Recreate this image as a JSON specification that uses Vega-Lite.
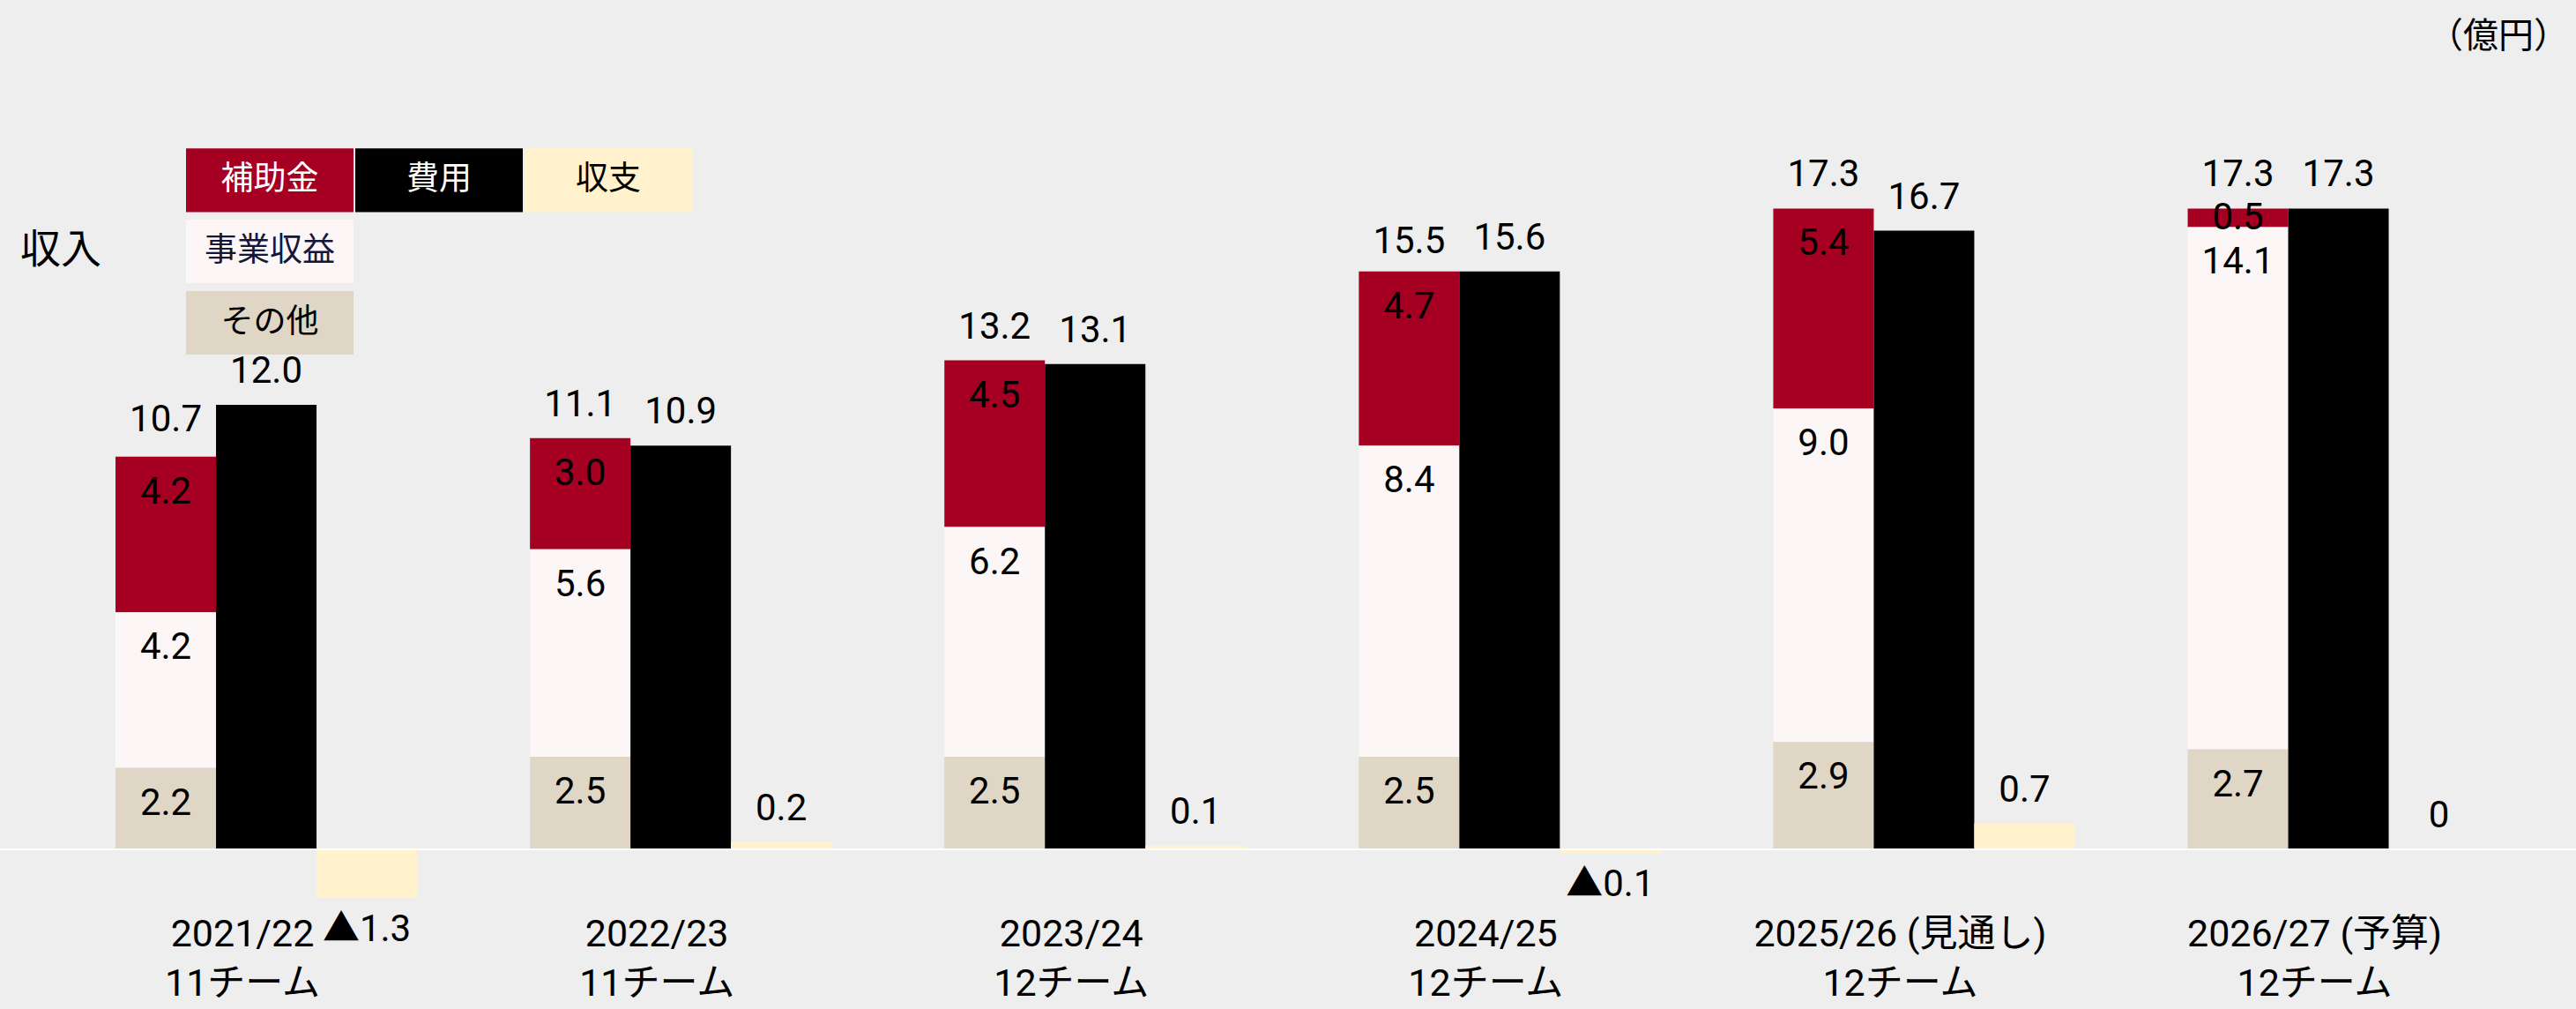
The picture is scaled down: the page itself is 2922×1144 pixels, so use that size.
{
  "$schema": "https://vega.github.io/schema/vega-lite/v6.json",
  "width": 2922,
  "height": 1144,
  "autosize": "none",
  "padding": 0,
  "background": "#eeeeee",
  "title": {"text": "（億円）", "anchor": "end", "orient": "top", "offset": -62, "dx": -8, "fontSize": 40, "font": "Noto Sans CJK JP", "fontWeight": "normal", "color": "#000000", "frame": "group"},
  "config": {"view": {"stroke": null}},
  "data": {"values": [
    {"season": "2021/22", "teams": "11チーム", "group": "収入", "series": "補助金", "value": 4.2},
    {"season": "2021/22", "teams": "11チーム", "group": "収入", "series": "事業収益", "value": 4.2},
    {"season": "2021/22", "teams": "11チーム", "group": "収入", "series": "その他", "value": 2.2},
    {"season": "2021/22", "teams": "11チーム", "group": "収入", "series": "合計", "value": 10.7},
    {"season": "2021/22", "teams": "11チーム", "group": "費用", "series": "費用", "value": 12.0},
    {"season": "2021/22", "teams": "11チーム", "group": "収支", "series": "収支", "value": -1.3},
    {"season": "2022/23", "teams": "11チーム", "group": "収入", "series": "補助金", "value": 3.0},
    {"season": "2022/23", "teams": "11チーム", "group": "収入", "series": "事業収益", "value": 5.6},
    {"season": "2022/23", "teams": "11チーム", "group": "収入", "series": "その他", "value": 2.5},
    {"season": "2022/23", "teams": "11チーム", "group": "収入", "series": "合計", "value": 11.1},
    {"season": "2022/23", "teams": "11チーム", "group": "費用", "series": "費用", "value": 10.9},
    {"season": "2022/23", "teams": "11チーム", "group": "収支", "series": "収支", "value": 0.2},
    {"season": "2023/24", "teams": "12チーム", "group": "収入", "series": "補助金", "value": 4.5},
    {"season": "2023/24", "teams": "12チーム", "group": "収入", "series": "事業収益", "value": 6.2},
    {"season": "2023/24", "teams": "12チーム", "group": "収入", "series": "その他", "value": 2.5},
    {"season": "2023/24", "teams": "12チーム", "group": "収入", "series": "合計", "value": 13.2},
    {"season": "2023/24", "teams": "12チーム", "group": "費用", "series": "費用", "value": 13.1},
    {"season": "2023/24", "teams": "12チーム", "group": "収支", "series": "収支", "value": 0.1},
    {"season": "2024/25", "teams": "12チーム", "group": "収入", "series": "補助金", "value": 4.7},
    {"season": "2024/25", "teams": "12チーム", "group": "収入", "series": "事業収益", "value": 8.4},
    {"season": "2024/25", "teams": "12チーム", "group": "収入", "series": "その他", "value": 2.5},
    {"season": "2024/25", "teams": "12チーム", "group": "収入", "series": "合計", "value": 15.5},
    {"season": "2024/25", "teams": "12チーム", "group": "費用", "series": "費用", "value": 15.6},
    {"season": "2024/25", "teams": "12チーム", "group": "収支", "series": "収支", "value": -0.1},
    {"season": "2025/26 (見通し)", "teams": "12チーム", "group": "収入", "series": "補助金", "value": 5.4},
    {"season": "2025/26 (見通し)", "teams": "12チーム", "group": "収入", "series": "事業収益", "value": 9.0},
    {"season": "2025/26 (見通し)", "teams": "12チーム", "group": "収入", "series": "その他", "value": 2.9},
    {"season": "2025/26 (見通し)", "teams": "12チーム", "group": "収入", "series": "合計", "value": 17.3},
    {"season": "2025/26 (見通し)", "teams": "12チーム", "group": "費用", "series": "費用", "value": 16.7},
    {"season": "2025/26 (見通し)", "teams": "12チーム", "group": "収支", "series": "収支", "value": 0.7},
    {"season": "2026/27 (予算)", "teams": "12チーム", "group": "収入", "series": "補助金", "value": 0.5},
    {"season": "2026/27 (予算)", "teams": "12チーム", "group": "収入", "series": "事業収益", "value": 14.1},
    {"season": "2026/27 (予算)", "teams": "12チーム", "group": "収入", "series": "その他", "value": 2.7},
    {"season": "2026/27 (予算)", "teams": "12チーム", "group": "収入", "series": "合計", "value": 17.3},
    {"season": "2026/27 (予算)", "teams": "12チーム", "group": "費用", "series": "費用", "value": 17.3},
    {"season": "2026/27 (予算)", "teams": "12チーム", "group": "収支", "series": "収支", "value": 0}
  ]},
  "transform": [
    {"calculate": "datum.season + '|' + datum.teams", "as": "xl"},
    {"calculate": "datum.value == 0 ? '0' : (datum.value < 0 ? '▲' : '') + format(abs(datum.value), '.1f')", "as": "txt"}
  ],
  "layer": [
    {
      "transform": [
        {"filter": "datum.group == '収入' && datum.series != '合計'"},
        {"calculate": "indexof(['その他','事業収益','補助金'], datum.series)", "as": "ord"},
        {"stack": "value", "groupby": ["xl"], "sort": [{"field": "ord", "order": "ascending"}], "as": ["v0", "v1"]},
        {"calculate": "datum.v1 - min(0.95, (datum.v1 - datum.v0) / 2)", "as": "lab"}
      ],
      "layer": [
        {
          "mark": {"type": "bar"},
          "encoding": {
            "x": {"field": "xl", "type": "nominal",
              "scale": {"type": "band", "paddingInner": 0.2725, "paddingOuter": 0.2441, "align": 0.571},
              "axis": {"orient": "bottom", "offset": -134, "title": null, "domain": false, "ticks": false, "grid": false, "labelAngle": 0, "labelPadding": 28, "labelBaseline": "top", "labelAlign": "center", "labelFontSize": 43, "labelFont": "Roboto, Noto Sans CJK JP", "labelColor": "#000000", "labelLineHeight": 56, "labelExpr": "split(datum.label, '|')", "labelOffset": -27, "labelOverlap": false, "labelBound": false, "labelLimit": 0}},
            "xOffset": {"field": "group", "type": "nominal", "scale": {"domain": ["収入", "費用", "収支"], "paddingInner": 0, "paddingOuter": 0}},
            "y": {"field": "v1", "type": "quantitative", "scale": {"domain": [-4.3095, 22.929], "nice": false, "zero": false}, "axis": null},
            "y2": {"field": "v0"},
            "color": {"field": "series", "type": "nominal",
              "scale": {"domain": ["補助金", "費用", "収支", "事業収益", "_a", "_b", "その他"], "range": ["#a50021", "#000000", "#fff2cc", "#fcf6f6", "rgba(0,0,0,0)", "rgba(0,0,0,0)", "#e0d6c5"]},
              "legend": {"orient": "none", "legendX": 23, "legendY": 166, "direction": "horizontal", "columns": 3,
                "title": "収入", "titleOrient": "left", "titleAnchor": "middle", "titleAlign": "left", "titleBaseline": "middle", "titleFontSize": 46, "titleFont": "Noto Sans CJK JP", "titleFontWeight": "normal", "titleColor": "#000000", "titlePadding": 96,
                "symbolType": "M-2.5,-0.95H2.5V0.95H-2.5Z", "symbolSize": 5776, "symbolOffset": 57, "symbolStrokeWidth": 0, "symbolOpacity": 1,
                "labelAlign": "center", "labelBaseline": "middle", "labelOffset": -38, "labelFontSize": 37, "labelFont": "Noto Sans CJK JP", "labelLimit": 0,
                "labelExpr": "indexof(datum.label, '_') == 0 ? '' : datum.label",
                "rowPadding": 6, "columnPadding": 2, "padding": 0,
                "encode": {
                  "labels": {"update": {"align": {"value": "center"}, "fill": {"signal": "datum.label == '補助金' || datum.label == '費用' ? '#ffffff' : (datum.label == '事業収益' ? '#15173a' : '#000000')"}}},
                  "title": {"update": {"angle": {"value": 0}}}
                }}}
          }
        },
        {
          "mark": {"type": "text", "font": "Roboto, Noto Sans CJK JP", "fontSize": 42, "color": "#000000", "baseline": "middle"},
          "encoding": {
            "x": {"field": "xl", "type": "nominal"},
            "xOffset": {"field": "group", "type": "nominal"},
            "y": {"field": "lab", "type": "quantitative", "axis": null},
            "text": {"field": "txt"}
          }
        }
      ]
    },
    {
      "transform": [{"filter": "datum.series == '費用' || datum.series == '収支'"}],
      "mark": {"type": "bar"},
      "encoding": {
        "x": {"field": "xl", "type": "nominal"},
        "xOffset": {"field": "group", "type": "nominal"},
        "y": {"field": "value", "type": "quantitative", "axis": null},
        "color": {"field": "series", "type": "nominal"}
      }
    },
    {
      "data": {"values": [{}]},
      "mark": {"type": "rule", "color": "#ffffff", "strokeWidth": 2},
      "encoding": {"y": {"datum": 0, "type": "quantitative", "axis": null}}
    },
    {
      "transform": [{"filter": "datum.series == '合計' || datum.series == '費用' || (datum.series == '収支' && datum.value >= 0)"}],
      "mark": {"type": "text", "font": "Roboto, Noto Sans CJK JP", "fontSize": 42, "color": "#000000", "baseline": "bottom", "dy": -16},
      "encoding": {
        "x": {"field": "xl", "type": "nominal"},
        "xOffset": {"field": "group", "type": "nominal"},
        "y": {"field": "value", "type": "quantitative", "axis": null},
        "text": {"field": "txt"}
      }
    },
    {
      "transform": [{"filter": "datum.series == '収支' && datum.value < 0"}],
      "mark": {"type": "text", "font": "Roboto, Noto Sans CJK JP", "fontSize": 42, "color": "#000000", "baseline": "top", "dy": 16},
      "encoding": {
        "x": {"field": "xl", "type": "nominal"},
        "xOffset": {"field": "group", "type": "nominal"},
        "y": {"field": "value", "type": "quantitative", "axis": null},
        "text": {"field": "txt"}
      }
    }
  ]
}
